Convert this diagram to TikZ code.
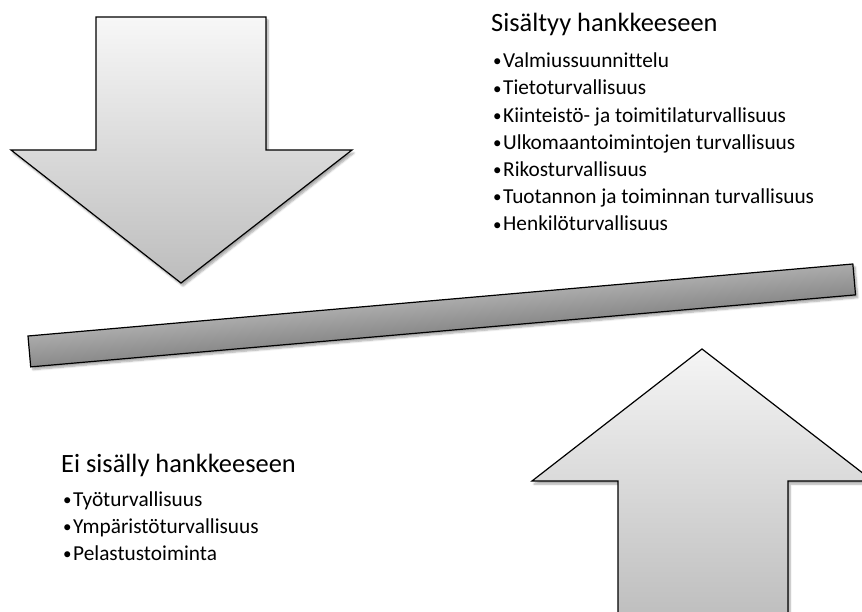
\documentclass[tikz,border=0pt]{standalone}
\usepackage{fontspec}
\setmainfont[Ligatures=NoCommon]{Carlito}
\usepackage{tikz}
\usetikzlibrary{positioning, shadows.blur}

\newcommand{\dotmark}{\makebox[10pt][l]{\raisebox{0.8pt}{\fontsize{17}{17}\selectfont\textbullet}}}

\begin{document}
\begin{tikzpicture}[x=1pt, y=-1pt,
	solid shape/.style={draw=black, line width=1.2pt, line join=miter,
		blur shadow={shadow xshift=2pt, shadow yshift=-3pt, shadow opacity=35, shadow blur steps=6}},
	head/.style={inner sep=0pt, anchor=base west, font=\fontsize{26.4}{30}\selectfont},
	item/.style={inner sep=0pt, anchor=base west, font=\fontsize{21.3}{25}\selectfont}]
	\useasboundingbox (0,0) rectangle (862,612);
	\clip (0,0) rectangle (862,612);
	\draw[solid shape, top color=black!3, bottom color=black!26]
		(96,17) -- (266,17) -- (266,150) -- (352,150) -- (181,283) -- (11,150) -- (96,150) -- cycle;
	\draw[solid shape, top color=black!4, bottom color=black!28]
		(702,349) -- (873,481) -- (788,481) -- (788,650) -- (618,650) -- (618,481) -- (532,481) -- cycle;
	\begin{scope}[transform canvas={shift={(28,336)}, rotate=4.99}]
		\draw[solid shape, top color=black!33, bottom color=black!46] (0,0) rectangle (828,31);
	\end{scope}
	\node[head] (intitle) at (491,32) {Sisältyy hankkeeseen};
	\foreach \t [count=\i] in {Valmiussuunnittelu, Tietoturvallisuus, Kiinteistö- ja toimitilaturvallisuus,
		Ulkomaantoimintojen turvallisuus, Rikosturvallisuus, Tuotannon ja toiminnan turvallisuus, Henkilöturvallisuus}
		\node[item] (in\i) at (493,40.5+27.2*\i) {\dotmark\t};
	\node[head] (outtitle) at (61,472) {Ei sisälly hankkeeseen};
	\foreach \t [count=\i] in {Työturvallisuus, Ympäristöturvallisuus, Pelastustoiminta}
		\node[item] (out\i) at (63,478.7+27.3*\i) {\dotmark\t};
\end{tikzpicture}
\end{document}
